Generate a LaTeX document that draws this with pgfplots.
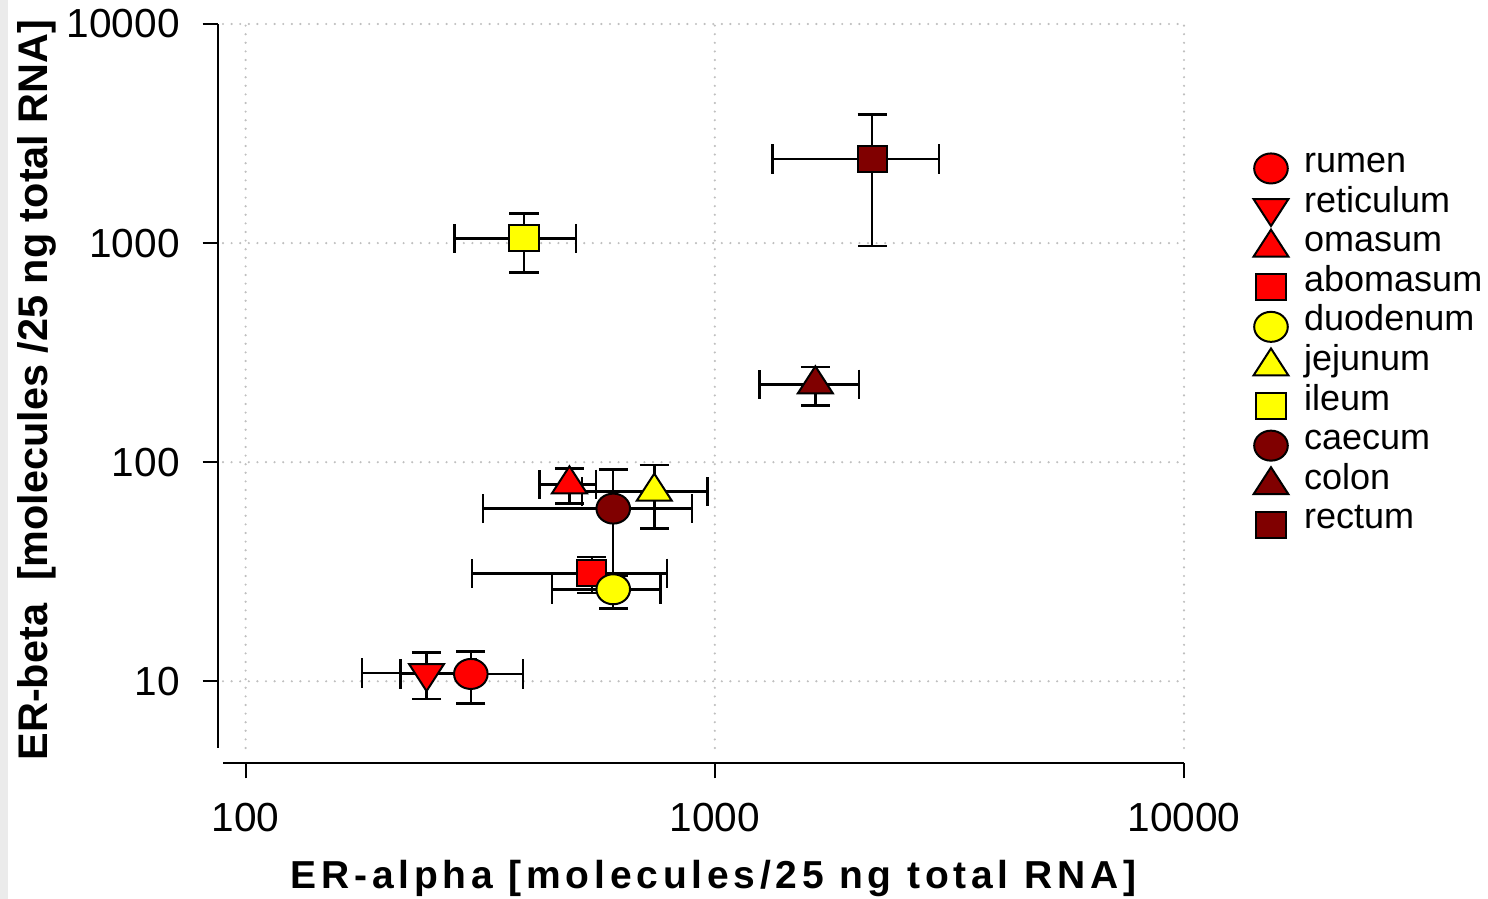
\documentclass[border=0pt]{standalone}
\usepackage{fontspec}
\setmainfont{Liberation Sans}
\newfontfamily\xlabfont[LetterSpace=12.2]{Liberation Sans}
\usepackage{pgfplots}
\pgfplotsset{compat=1.18}
\definecolor{cRed}{RGB}{255,0,0}
\definecolor{cYel}{RGB}{255,255,0}
\definecolor{cDark}{RGB}{128,0,0}
\pgfplotsset{
  er/.style={only marks, draw=black, line width=1pt,
    error bars/x dir=both, error bars/x explicit,
    error bars/y dir=both, error bars/y explicit,
    error bars/error bar style={line width=1.25pt, black, solid},
    error bars/error mark options={black, line width=1.25pt, mark size=7.3pt, solid, xscale=1, rotate=90}},
  mcirc/.style={er, mark=*, mark size=7.5pt, mark options={fill=#1, xscale=1.12}},
  mtri/.style={er, mark=triangle*, mark size=9pt, mark options={fill=#1, xscale=1.12}},
  mdtri/.style={er, mark=triangle*, mark size=9pt, mark options={fill=#1, xscale=1.12, rotate=180}},
  msq/.style={er, mark=square*, mark size=6.5pt, mark options={fill=#1, xscale=1.12}},
}
\begin{document}
\begin{tikzpicture}
\useasboundingbox (-111.5pt,-75.5pt) rectangle (632.5pt,374pt);
\fill[black!8] (-111.5pt,-75.5pt) rectangle (-107.5pt,374pt);
\begin{axis}[
  at={(0pt,0pt)}, anchor=south west,
  scale only axis, width=480.5pt, height=362pt,
  xmode=log, ymode=log,
  xmin=89.5, xmax=10000, ymin=4.96, ymax=10000,
  axis lines*=left,
  axis x line shift=7.65pt, axis y line shift=2.65pt,
  axis line style={line width=1.1pt, black},
  xtick={100,1000,10000}, xticklabels={100,1000,10000},
  ytick={10,100,1000,10000}, yticklabels={10,100,1000,10000},
  xminorticks=false, yminorticks=false,
  tick align=outside, major tick length=7.5pt,
  every tick/.style={black, line width=1.1pt},
  tick label style={font=\fontsize{20.3}{20.3}\selectfont},
  xticklabel style={yshift=-9pt},
  yticklabel style={xshift=-8pt},
  grid=major,
  grid style={black!25, line width=1.2pt, dash pattern=on 0pt off 4.3pt, line cap=round},
  xlabel={\xlabfont\bfseries ER-alpha [molecules/25 ng total RNA]},
  ylabel={\bfseries ER-beta\ \ [molecules /25 ng total RNA]},
  every axis x label/.style={at={(axis description cs:0.5104,-0.1934)}, anchor=base, inner sep=0pt, font=\fontsize{19.5}{19.5}\selectfont},
  every axis y label/.style={at={(axis description cs:-0.1831,0.4945)}, anchor=base, rotate=90, inner sep=0pt, font=\fontsize{20.7}{20.7}\selectfont},
  legend image code/.code={
    \path[draw=none, fill=none] (0pt,-4pt) rectangle (17.2pt,13pt);
    \draw[overlay, yshift=-2.5pt, mark repeat=2, mark phase=2, #1] plot coordinates {(0pt,0pt) (8.6pt,0pt) (17.2pt,0pt)};
  },
  legend cell align=left,
  legend style={at={(axis description cs:1.0726,0.8433)}, anchor=north west, draw=none, fill=none, inner sep=0pt, outer sep=0pt, row sep=-1.7pt, column sep=8pt, font=\fontsize{18}{18}\selectfont, nodes={inner sep=0pt, text height=13pt, text depth=4pt}},
]
\addplot[mcirc=cRed]  coordinates {(302,10.8) +- (88,2.9)};
\addplot[mdtri=cRed]  coordinates {(243,10.9) +- (66,2.6)};
\addplot[mtri=cRed]   coordinates {(490,79.3) +- (67.5,14.5)};
\addplot[msq=cRed]    coordinates {(547,31.1) +- (243,5.8)};
\addplot[mcirc=cYel]  coordinates {(607.5,26.3) +- (158,4.8)};
\addplot[mtri=cYel]   coordinates {(743,73.4) +- (222,23.5)};
\addplot[msq=cYel]    coordinates {(392,1051) +- (113.5,316)};
\addplot[mcirc=cDark] coordinates {(607.5,61.4) +- (287,31)};
\addplot[mtri=cDark]  coordinates {(1638,226.8) +- (393,45)};
\addplot[msq=cDark]   coordinates {(2165,2420) +- (837,1449)};
\legend{rumen,reticulum,omasum,abomasum,duodenum,jejunum,ileum,caecum,colon,rectum}
\end{axis}
\end{tikzpicture}
\end{document}
